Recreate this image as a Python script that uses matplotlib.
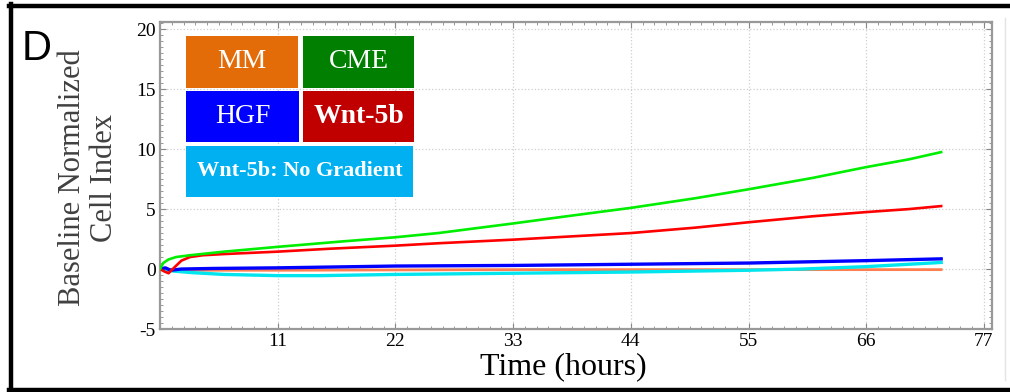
import matplotlib
matplotlib.use("Agg")
import matplotlib.pyplot as plt
from matplotlib.lines import Line2D
from matplotlib.patches import Rectangle
from matplotlib.ticker import MultipleLocator
import numpy as np

plt.rcParams['axes.unicode_minus'] = False

# ---- data ----
t_cme = [0, 0.3, 0.8, 1.5, 2.8, 6, 11, 17, 22, 26, 33, 38, 44, 50, 55, 61, 66, 70, 73]
v_cme = [0, 0.5, 0.8, 1.0, 1.15, 1.45, 1.85, 2.3, 2.65, 3.0, 3.8, 4.4, 5.1, 5.9, 6.65, 7.6, 8.5, 9.15, 9.75]

t_wnt = [0, 0.4, 0.8, 1.3, 2, 2.8, 4, 6, 11, 16, 22, 26, 33, 41, 44, 50, 55, 61, 66, 70, 73]
v_wnt = [0, -0.2, -0.35, 0.1, 0.7, 1.0, 1.15, 1.25, 1.45, 1.7, 1.95, 2.15, 2.45, 2.85, 3.0, 3.45, 3.9, 4.4, 4.75, 5.0, 5.25]

t_hgf = [0, 0.5, 1, 2, 5, 11, 22, 33, 44, 55, 66, 73]
v_hgf = [0, 0.1, -0.1, 0, 0.05, 0.1, 0.25, 0.3, 0.4, 0.5, 0.7, 0.85]

t_nog = [0, 1, 3, 6, 11, 15, 22, 33, 44, 55, 60, 66, 73]
v_nog = [0, -0.15, -0.3, -0.45, -0.55, -0.55, -0.45, -0.35, -0.25, -0.1, 0.0, 0.2, 0.55]

t_mm = [0, 2, 11, 33, 55, 73]
v_mm = [0, -0.1, -0.1, -0.05, -0.05, -0.05]

xticks = [11, 22, 33, 44, 55, 66, 77]
yticks = [-5, 0, 5, 10, 15, 20]

legend_labels = ['MM', 'CME', 'HGF', 'Wnt-5b', 'Wnt-5b: No Gradient']
legend_colors = ['#E36C09', '#007F00', '#0000FF', '#C00000', '#00B0F0']

W, H = 1010, 392
fig = plt.figure(figsize=(W / 100, H / 100), dpi=100)
fig.patch.set_facecolor('white')

def fx(px):
    return px / W

def fy(py):
    return 1 - py / H

ax = fig.add_axes([fx(160), fy(329), fx(992) - fx(160), fy(22) - fy(329)])

# lines
ax.plot(t_mm, v_mm, color='#FF7F50', lw=2.0, zorder=3)
ax.plot(t_nog, v_nog, color='#00E5EE', lw=2.4, zorder=4)
ax.plot(t_hgf, v_hgf, color='#0000FF', lw=2.4, zorder=5)
ax.plot(t_wnt, v_wnt, color='#FF0000', lw=1.9, zorder=6)
ax.plot(t_cme, v_cme, color='#00EE00', lw=1.9, zorder=7)

ax.set_xlim(0, 77.75)
ax.set_ylim(-5, 20.6)
ax.set_xticks(xticks)
ax.set_yticks(yticks)
ax.xaxis.set_minor_locator(MultipleLocator(1.1))
ax.yaxis.set_minor_locator(MultipleLocator(0.5))
ax.tick_params(which='both', direction='in', top=True, right=True, color='#888888')
ax.tick_params(which='major', length=4, labelsize=14, pad=3)
ax.tick_params(which='minor', length=2.5)
for lab in ax.get_xticklabels() + ax.get_yticklabels():
    lab.set_family('Liberation Serif')
ax.grid(True, which='major', color='#cfcfcf', ls=':', lw=0.9)
for s in ax.spines.values():
    s.set_color('#999999')
    s.set_linewidth(1.6)

fig.text(fx(563), fy(367), 'Time (hours)', family='Liberation Serif', fontsize=23,
         ha='center', va='center')
fig.text(fx(73), fy(178), 'Baseline Normalized', family='Liberation Serif', fontsize=22,
         color='#404040', rotation=90, ha='center', va='center')
fig.text(fx(104), fy(178), 'Cell Index', family='Liberation Serif', fontsize=22,
         color='#404040', rotation=90, ha='center', va='center')

# legend boxes
boxes = [(186, 36, 298, 88), (303, 36, 414, 88), (186, 91, 299, 142),
         (303, 91, 414, 142), (186, 146, 413, 197)]
for (x0, y0, x1, y1), lab, col in zip(boxes, legend_labels, legend_colors):
    r = Rectangle((fx(x0), fy(y1)), fx(x1) - fx(x0), fy(y0) - fy(y1),
                  transform=fig.transFigure, facecolor=col, edgecolor='none', zorder=10)
    fig.add_artist(r)
    bold = lab.startswith('Wnt')
    fs = 16 if 'Gradient' in lab else 20
    fig.text(fx((x0 + x1) / 2), fy((y0 + y1) / 2), lab, color='white',
             family='Liberation Serif', fontsize=fs,
             weight='bold' if bold else 'normal', ha='center', va='center', zorder=11)

# panel letter
fig.text(fx(22), fy(49), 'D', family='Liberation Sans', fontsize=30, ha='left', va='center')

# outer frame
fig.add_artist(Line2D([fx(9), 1], [fy(6), fy(6)], color='black', lw=3.2))
fig.add_artist(Line2D([fx(11), fx(11)], [fy(4), fy(391)], color='black', lw=3.2))
fig.add_artist(Line2D([fx(9), 1], [fy(390), fy(390)], color='black', lw=3.2))
fig.add_artist(Line2D([fx(1005), fx(1005)], [fy(18), fy(380)], color='#e4e4e4', lw=1.0))

fig.savefig('out.png', dpi=100)
